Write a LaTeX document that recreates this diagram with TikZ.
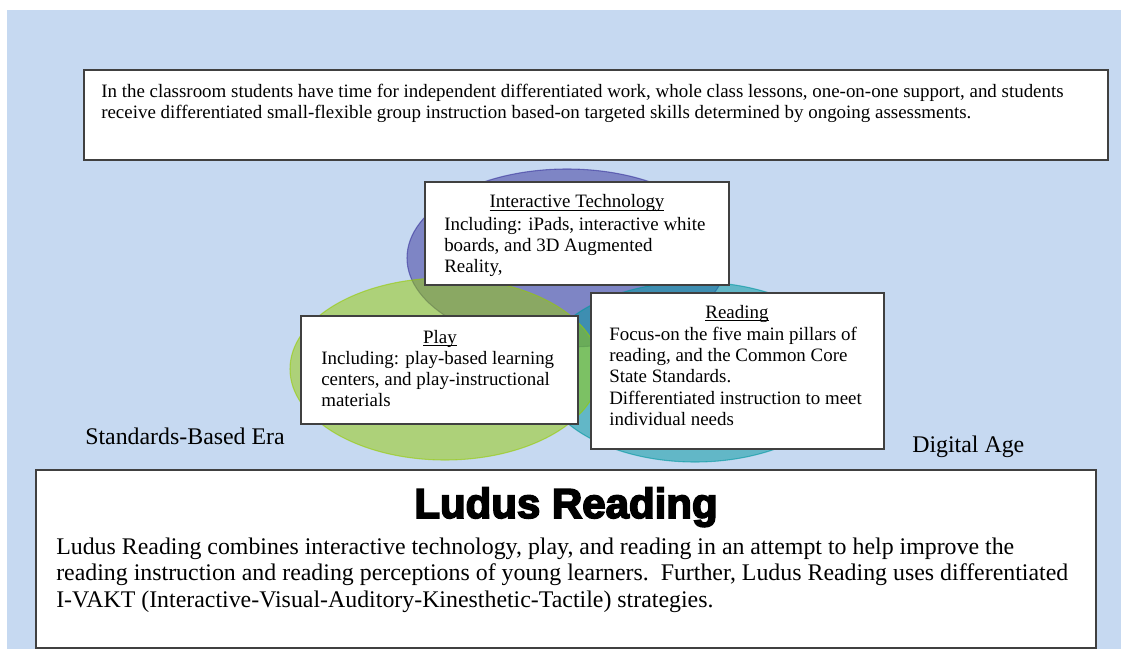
\documentclass[tikz,border=0pt]{standalone}
\usepackage{fontspec}
\setmainfont{Liberation Serif}
\newfontfamily\titlefont{Liberation Sans}[BoldFeatures={FakeBold=4}]
\definecolor{bgblue}{HTML}{C6D9F1}
\definecolor{vblue}{HTML}{38339B}
\definecolor{vteal}{HTML}{00979F}
\definecolor{vgreen}{HTML}{96CB03}
\definecolor{boxline}{HTML}{404040}
\newcommand\myul[1]{\setbox0\hbox{#1}\rlap{\rule[-2.4pt]{\wd0}{0.7pt}}\box0}
\tikzset{
  venn/.style={fill opacity=0.5, draw opacity=0.6, line width=0.8pt},
  txtbox/.style={draw=boxline, fill=white, line width=0.9pt},
  boxtext/.style={font={\fontsize{14.2}{16}\selectfont}, inner sep=0pt, align=left, text=black},
  boxtitle/.style={font={\fontsize{14.2}{16}\selectfont}, inner sep=0pt, anchor=base, text=black},
  bigtext/.style={font={\fontsize{17.9}{19.9}\selectfont}, inner sep=0pt, text=black},
}
\begin{document}
\begin{tikzpicture}[x=0.75pt,y=-0.75pt]
\useasboundingbox (0,0) rectangle (1121,649);
\fill[white] (0,0) rectangle (1121,649);
\fill[bgblue] (7,10) rectangle (1121,649);
% Venn ellipses
\draw[venn, fill=vblue, draw=vblue] (567,258) ellipse [x radius=160, y radius=89];
\draw[venn, fill=vteal, draw=vteal] (695,372) ellipse [x radius=155, y radius=90];
\draw[venn, fill=vgreen, draw=vgreen] (445,369) ellipse [x radius=155, y radius=91];
% top box
\draw[txtbox] (84,70) rectangle (1108,160);
\node[boxtext, anchor=north west] (toptext) at (101,82.1) {\strut In the classroom students have time for independent differentiated work, whole class lessons, one-on-one support, and students\\receive differentiated small-flexible group instruction based-on targeted skills determined by ongoing assessments.};
% Interactive technology
\draw[txtbox] (425,182) rectangle (729,285);
\node[boxtitle] (ittitle) at (577,208) {\myul{Interactive Technology}};
\node[boxtext, anchor=north west] (ittext) at (444,215.1) {\strut Including: iPads, interactive white\\boards, and 3D Augmented\\Reality,};
% Play
\draw[txtbox] (301,316) rectangle (578,424);
\node[boxtitle] (playtitle) at (440,343) {\myul{Play}};
\node[boxtext, anchor=north west] (playtext) at (321,349.1) {\strut Including: play-based learning\\centers, and play-instructional\\materials};
% Reading
\draw[txtbox] (591,293) rectangle (884,449);
\node[boxtitle] (readtitle) at (737,318) {\myul{Reading}};
\node[boxtext, anchor=north west] (readtext) at (609,325.1) {\strut Focus-on the five main pillars of\\reading, and the Common Core\\State Standards.\\Differentiated instruction to meet\\individual needs};
% side labels
\node[bigtext, anchor=base west] (era) at (85,444) {Standards-Based Era};
\node[bigtext, anchor=base west] (digital) at (912,452) {Digital Age};
% bottom box
\draw[txtbox] (36,470) rectangle (1096,648);
\node[inner sep=0pt, anchor=base, font={\titlefont\bfseries\fontsize{31.5}{33}\selectfont}] (title) at (566,518) {Ludus Reading};
\node[bigtext, align=left, anchor=north west] (bodytext) at (56,535.4) {\strut Ludus Reading combines interactive technology, play, and reading in an attempt to help improve the\\reading instruction and reading perceptions of young learners.\ \ Further, Ludus Reading uses differentiated\\I-VAKT (Interactive-Visual-Auditory-Kinesthetic-Tactile) strategies.};
\end{tikzpicture}
\end{document}
